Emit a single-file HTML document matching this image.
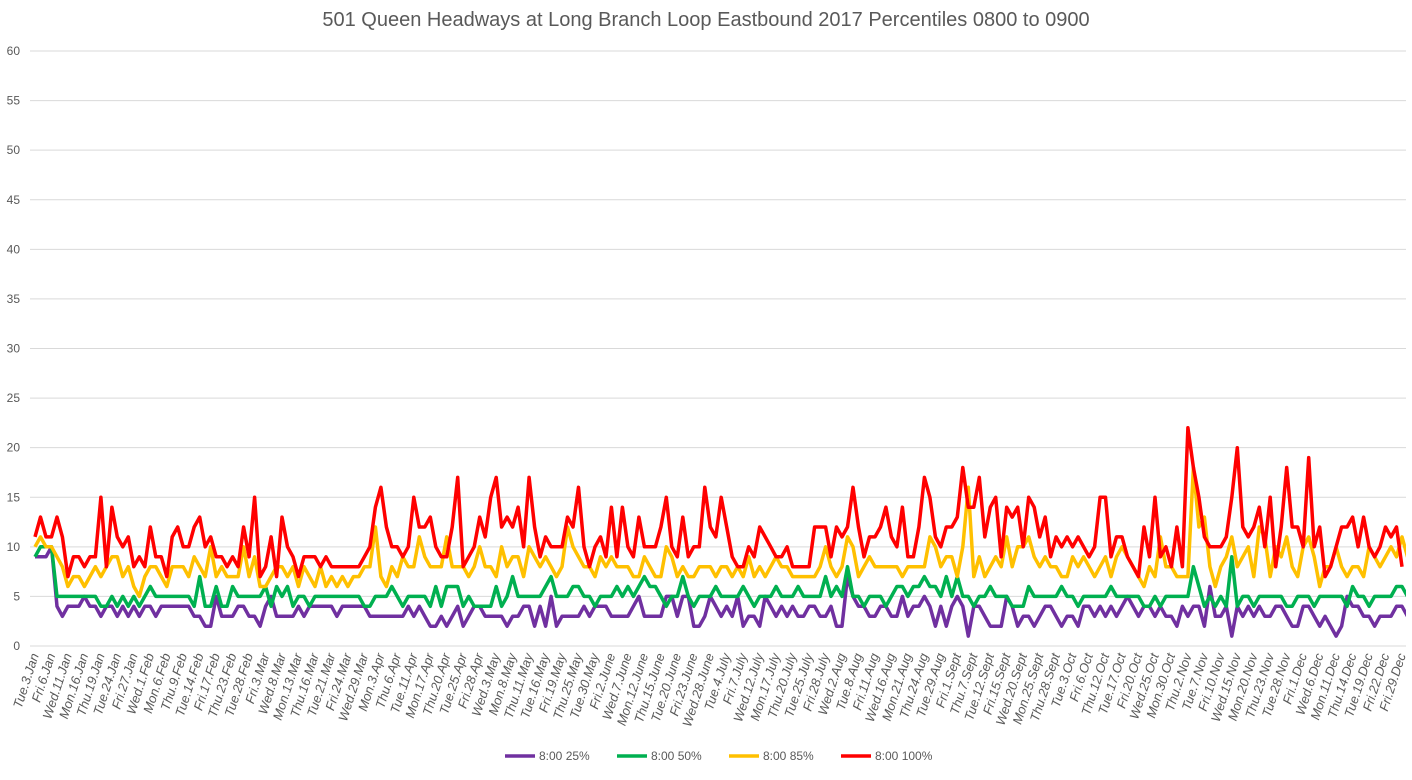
<!DOCTYPE html>
<html><head><meta charset="utf-8"><style>
body{margin:0;background:#fff;font-family:"Liberation Sans",sans-serif}
</style></head><body>
<svg id="chart" width="1412" height="775" viewBox="0 0 1412 775" xmlns="http://www.w3.org/2000/svg">
<defs><clipPath id="pc"><rect x="30" y="40" width="1376" height="620"/></clipPath></defs>
<text x="706" y="26" text-anchor="middle" font-size="20" fill="#595959">501 Queen Headways at Long Branch Loop Eastbound 2017 Percentiles 0800 to 0900</text>
<g id="grid"></g><g id="xlabels"></g><g id="series" clip-path="url(#pc)"></g><g id="legend"></g>
</svg>
<script>
const yTicks=[0,5,10,15,20,25,30,35,40,45,50,55,60];
const holidays=["2017-01-02","2017-02-20","2017-04-14","2017-05-22","2017-07-03","2017-08-07","2017-09-04","2017-10-09","2017-12-25","2017-12-26"];
const categories=[];
(function(){const dn=["Sun","Mon","Tue","Wed","Thu","Fri","Sat"];const mn=["Jan","Feb","Mar","Apr","May","June","July","Aug","Sept","Oct","Nov","Dec"];
for(let d=new Date(Date.UTC(2017,0,3));d.getUTCFullYear()===2017;d.setUTCDate(d.getUTCDate()+1)){const w=d.getUTCDay();if(w===0||w===6)continue;const iso=d.toISOString().slice(0,10);if(holidays.includes(iso))continue;categories.push(dn[w]+"."+d.getUTCDate()+"."+mn[d.getUTCMonth()]);}})();
const p25=[9,9,9,10,4,3,4,4,4,5,4,4,3,4,4,3,4,3,4,3,4,4,3,4,4,4,4,4,4,3,3,2,2,5,3,3,3,4,4,3,3,2,4,5,3,3,3,3,4,3,4,4,4,4,4,3,4,4,4,4,4,3,3,3,3,3,3,3,4,3,4,3,2,2,3,2,3,4,2,3,4,4,3,3,3,3,2,3,3,4,4,2,4,2,5,2,3,3,3,3,4,3,4,4,4,3,3,3,3,4,5,3,3,3,3,5,5,3,5,5,2,2,3,5,4,3,4,3,5,2,3,3,2,5,4,3,4,3,4,3,3,4,4,3,3,4,2,2,7,5,4,4,3,3,4,4,3,3,5,3,4,4,5,4,2,4,2,4,5,4,1,4,4,3,2,2,2,5,4,2,3,3,2,3,4,4,3,2,3,3,2,4,4,3,4,3,4,3,4,5,4,3,4,4,3,4,3,3,2,4,3,4,4,2,6,3,3,4,1,4,3,4,3,4,3,3,4,4,3,2,2,4,4,3,2,3,2,1,2,5,4,4,3,3,2,3,3,3,4,4,3,4,5,2,4,3,4];
const p50=[9,10,10,10,5,5,5,5,5,5,5,5,4,4,5,4,5,4,5,4,5,6,5,5,5,5,5,5,5,4,7,4,4,6,4,4,6,5,5,5,5,5,6,4,6,5,6,4,5,5,4,5,5,5,5,5,5,5,5,5,4,4,5,5,5,6,5,4,5,5,5,5,4,6,4,6,6,6,4,5,4,4,4,4,6,4,5,7,5,5,5,5,5,6,7,5,5,5,6,6,5,5,4,5,5,5,6,5,6,5,6,7,6,6,5,4,5,5,7,5,4,5,5,5,6,5,5,5,5,6,5,4,5,5,5,6,5,5,5,6,5,5,5,5,7,5,6,5,8,5,5,4,5,5,5,4,5,6,6,5,6,6,7,6,6,5,7,5,7,5,5,4,5,5,6,5,5,5,4,4,4,6,5,5,5,5,5,6,5,5,4,5,5,5,5,5,6,5,5,5,5,5,4,4,5,4,5,5,5,5,5,8,6,4,5,4,5,4,9,4,5,5,4,5,5,5,5,5,4,4,5,5,5,4,5,5,5,5,5,4,6,5,5,4,5,5,5,5,6,6,5,5,5];
const p85=[10,11,10,10,9,8,6,7,7,6,7,8,7,8,9,9,7,8,6,5,7,8,8,7,6,8,8,8,7,9,8,7,10,7,8,7,7,7,10,7,9,6,6,7,8,8,7,8,6,8,7,6,8,6,7,6,7,6,7,7,8,8,12,7,6,8,7,9,8,8,11,9,8,8,8,11,8,8,8,7,8,10,8,8,7,10,8,9,9,7,10,9,8,9,8,7,8,12,10,9,8,8,7,9,8,9,8,8,8,7,7,9,8,7,7,10,9,7,8,7,7,8,8,8,7,8,8,7,8,7,9,7,8,7,8,9,8,8,7,7,7,7,7,8,10,8,7,8,11,10,7,8,9,8,8,8,8,8,7,8,8,8,8,11,10,8,9,9,7,10,16,7,9,7,8,9,8,11,8,10,10,11,9,8,9,8,8,7,7,9,8,9,8,7,8,9,7,9,10,9,8,7,6,8,7,11,8,8,7,7,7,18,12,13,8,6,8,9,11,8,9,10,7,12,11,7,10,9,11,8,7,10,11,9,6,8,8,10,8,7,8,8,7,10,9,8,9,10,9,11,9,8,8,7,9,9,8,6,7,7];
const p100=[11,13,11,11,13,11,7,9,9,8,9,9,15,8,14,11,10,11,8,9,8,12,9,9,7,11,12,10,10,12,13,10,11,9,9,8,9,8,12,9,15,7,8,11,7,13,10,9,7,9,9,9,8,9,8,8,8,8,8,8,9,10,14,16,12,10,10,9,10,15,12,12,13,10,9,9,12,17,8,9,10,13,11,15,17,12,13,12,14,10,17,12,9,11,10,10,10,13,12,16,10,8,10,11,9,14,9,14,10,9,13,10,10,10,12,15,10,9,13,9,10,10,16,12,11,15,12,9,8,8,10,9,12,11,10,9,9,10,8,8,8,8,12,12,12,9,12,11,12,16,12,9,11,11,12,14,11,10,14,9,9,12,17,15,11,10,12,12,13,18,14,14,17,11,14,15,9,14,13,14,10,15,14,11,13,9,11,10,11,10,11,10,9,10,15,15,9,11,11,9,8,7,12,9,15,9,10,8,12,8,22,18,15,11,10,10,10,11,15,20,12,11,12,14,10,15,8,12,18,12,12,10,19,10,12,7,8,10,12,12,13,10,13,10,9,10,12,11,12,8];
const seriesNames=["8:00 25%","8:00 50%","8:00 85%","8:00 100%"];
const seriesColors=["#7030a0","#00b050","#ffc000","#ff0000"];
const seriesData=[p25,p50,p85,p100];
const NS="http://www.w3.org/2000/svg";
const X0=35,X1=1402,Y0=646,Y60=51;
function x(i){return X0+(X1-X0)*i/(categories.length-1);}
function y(v){return Y0-(Y0-Y60)*v/60;}
function mk(t,a,p){const e=document.createElementNS(NS,t);for(const k in a)e.setAttribute(k,a[k]);p.appendChild(e);return e;}
const grid=document.getElementById('grid');
yTicks.forEach(v=>{
const l=mk('line',{x1:30,x2:1406,y1:y(v),y2:y(v),stroke:'#d9d9d9','stroke-width':1},grid);


const t=mk('text',{x:20,y:y(v)+4,'text-anchor':'end','font-size':12,fill:'#595959'},grid);
t.textContent=v;


});
const xl=document.getElementById('xlabels');
categories.forEach((c,i)=>{if(i%3)return;
const t=mk('text',{x:x(i)+4,y:655,'text-anchor':'end','font-size':13,fill:'#595959','font-style':'italic',transform:'rotate(-72 '+(x(i)+4)+' 655)'},xl);
t.textContent=c;


});
const sg=document.getElementById('series');
seriesData.forEach((d,s)=>{
const pts=d.map((v,i)=>x(i).toFixed(1)+','+y(v).toFixed(1)).join(' ');
const p=mk('polyline',{points:pts,fill:'none',stroke:seriesColors[s],'stroke-width':3.5,'stroke-linejoin':'round'},sg);


});
const lg=document.getElementById('legend');
const lx=[505,617,729,841];
seriesNames.forEach((n,s)=>{
const g=mk('g',{},lg);


mk('line',{x1:lx[s],x2:lx[s]+30,y1:756,y2:756,stroke:seriesColors[s],'stroke-width':3.5},g);
const t=mk('text',{x:lx[s]+34,y:760,'font-size':12,fill:'#595959'},g);
t.textContent=n;
});
</script>
</body></html>
